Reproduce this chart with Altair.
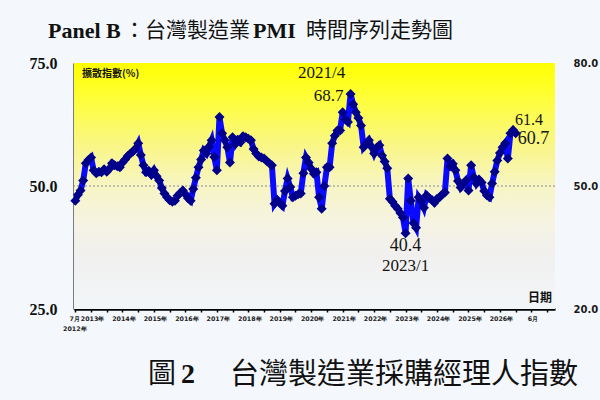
import altair as alt
import pandas as pd

# Monthly Taiwan manufacturing PMI, starting 2012/7
pmi = [
    47.0, 48.2, 49.1, 51.1, 54.6, 55.3, 55.8, 53.2, 52.6, 52.9, 52.8, 53.4,
    52.9, 53.5, 54.6, 54.2, 54.0, 53.8, 54.8, 55.4, 56.1, 56.6, 57.0, 57.6,
    58.7, 56.3, 54.2, 52.8, 53.1, 52.3, 53.2, 52.0, 51.1, 49.6, 48.5, 47.7,
    47.1, 46.8, 47.0, 48.0, 48.6, 49.1, 48.3, 47.5, 47.0, 49.4, 51.7, 53.8,
    55.4, 57.2, 56.6, 58.0, 59.3, 55.9, 53.2, 64.0, 60.7, 59.3, 57.9, 54.8,
    59.9, 58.5, 59.4, 58.9, 60.1, 59.9, 59.6, 59.3, 57.5, 56.6, 56.0, 55.8,
    55.6, 55.1, 54.6, 54.2, 46.4, 47.2, 46.6, 46.0, 49.0, 51.5, 49.8, 47.7,
    48.0, 48.3, 48.5, 52.6, 55.8, 54.8, 53.5, 52.5, 52.8, 47.7, 45.4, 50.0,
    53.8, 53.8, 58.7, 60.2, 61.3, 61.3, 65.0, 63.5, 63.0, 68.7, 66.6, 65.0,
    63.8, 62.3, 57.9, 58.6, 59.3, 58.0, 56.6, 57.8, 58.3, 56.2, 55.0, 53.6,
    47.4, 46.8, 46.0, 45.4, 44.5, 43.6, 40.4, 51.5, 47.0, 42.5, 41.5, 47.7,
    46.9, 45.6, 48.1, 47.5, 47.2, 46.6, 47.4, 47.7, 48.3, 48.7, 55.6, 54.0,
    54.5, 53.2, 51.0, 49.7, 50.4, 51.1, 49.1, 54.2, 51.8, 50.5, 51.3, 50.7,
    49.0, 48.1, 47.7, 50.5, 52.9, 55.2, 56.7, 57.9, 58.7, 55.6, 60.7, 61.4,
    60.7,
]

months = []
yy, mm = 2012, 7
for _ in pmi:
    months.append(f"{yy}/{mm}")
    mm += 1
    if mm > 12:
        mm, yy = 1, yy + 1

df = pd.DataFrame({"t": list(range(len(pmi))), "pmi": pmi, "month": months})

left_ticks = [25, 50, 75]
right_ticks = [20, 50, 80]
xtick_pos = list(range(0, 181, 6))
xlabel_pos = [0, 6, 18, 30, 42, 54, 66, 78, 90, 102, 114, 126, 138, 150, 162, 174]
xlabel_text = [["7月", "2012年"], "2013年", "2014年", "2015年", "2016年", "2017年",
               "2018年", "2019年", "2020年", "2021年", "2022年", "2023年", "2024年",
               "2025年", "2026年", "6月"]

expr = "''"
for p, lab in reversed(list(zip(xlabel_pos, xlabel_text))):
    if isinstance(lab, list):
        s = "[" + ",".join(f"'{x}'" for x in lab) + "]"
    else:
        s = f"'{lab}'"
    expr = f"datum.value == {p} ? {s} : ({expr})"

W, H = 481, 246
xs = alt.Scale(domain=[-0.5, 183], nice=False, zero=False)
ys = alt.Scale(domain=[25, 75], nice=False, zero=False)

x_axis = alt.Axis(values=xtick_pos, labelExpr=expr, title=None, grid=False,
                  domainColor="#000", domainWidth=2.5, tickColor="#000", tickWidth=1.5,
                  tickSize=3, labelFont="DejaVu Sans", labelFontSize=6.3, labelFontWeight="bold",
                  labelColor="#222", labelPadding=3, labelOverlap=False, labelFlush=False,
                  labelBound=False, labelLineHeight=10, labelBaseline="top",
                  labelOffset={"condition": {"test": "datum.value == 0", "value": -1},
                               "value": 1})
y_axis = alt.Axis(values=left_ticks, format=".1f", title=None, grid=False, ticks=False,
                  domainColor="#000", domainWidth=2, labelFont="Liberation Serif",
                  labelFontWeight="bold", labelFontSize=16, labelColor="#111", labelPadding=17)

X = alt.X("t:Q", scale=xs, axis=x_axis)
Y = alt.Y("pmi:Q", scale=ys, axis=y_axis)

grad = alt.Gradient(
    gradient="linear", x1=0, x2=0, y1=0, y2=1,
    stops=[
        alt.GradientStop(color="#FFFF00", offset=0.0),
        alt.GradientStop(color="#FFFF30", offset=0.12),
        alt.GradientStop(color="#F9F68C", offset=0.35),
        alt.GradientStop(color="#F7F5C4", offset=0.5),
        alt.GradientStop(color="#F5F3E2", offset=0.65),
        alt.GradientStop(color="#F1F0EF", offset=0.78),
        alt.GradientStop(color="#F2F5F8", offset=1.0),
    ],
)

one = alt.Data(values=[{}])

bg = alt.Chart(one).mark_rect(color=grad).encode(
    x=alt.value(0), x2=alt.value(W), y=alt.value(0), y2=alt.value(H))

rule50 = alt.Chart(one).mark_rule(color="#888", strokeDash=[2, 2], strokeWidth=1).encode(
    y=alt.datum(50, scale=ys))

base = alt.Chart(df)
line = base.mark_line(color="#0A0AFF", strokeWidth=6).encode(x=X, y=Y)
pts = base.mark_point(shape="diamond", filled=True, size=100, color="#00008B",
                      opacity=1).encode(x=X, y=Y)

peak = pmi.index(max(pmi))
trough = pmi.index(min(pmi))
last = len(pmi) - 1

def ann(idx, field, dx, dy, size=17, align="center", fmt=None):
    txt = alt.Text(f"{field}:Q", format=fmt) if fmt else alt.Text(f"{field}:N")
    return base.transform_filter(alt.datum.t == idx).mark_text(
        font="Liberation Serif", fontSize=size, color="#151515", align=align,
        baseline="middle", dx=dx, dy=dy).encode(x=X, y=Y, text=txt)

anns = [
    ann(peak, "month", -29, -21),
    ann(peak, "pmi", -22, 2, fmt=".1f"),
    ann(trough, "pmi", 0, 13, size=18, fmt=".1f"),
    ann(trough, "month", 0, 33),
    ann(last - 1, "pmi", 2, -10, size=16, align="left", fmt=".1f"),
    ann(last, "pmi", 2, 6, size=18, align="left", fmt=".1f"),
]

def txt(s, x, y, font, size, weight="normal", align="left"):
    return alt.Chart(one).mark_text(text=s, font=font, fontSize=size, fontWeight=weight,
                                    align=align, baseline="middle", color="#111").encode(
        x=alt.value(x), y=alt.value(y))

CJK = "Noto Sans CJK TC"
SER = "Liberation Serif"
texts = [
    txt("Panel B", -26, -32, SER, 22, "bold"),
    txt("：台灣製造業", 50, -32, CJK, 21),
    txt("PMI", 179, -32, SER, 22, "bold"),
    txt("時間序列走勢圖", 232, -32, CJK, 21),
    txt("圖", 74, 312, CJK, 28),
    txt("2", 107, 312, SER, 28, "bold"),
    txt("台灣製造業採購經理人指數", 156, 312, CJK, 29),
    txt("擴散指數(%)", 8, 11, CJK, 10, "bold"),
    txt("日期", 478, 235, CJK, 12, "bold", align="right"),
]

main = alt.layer(bg, rule50, line, pts, *anns, *texts)

right = alt.Chart(pd.DataFrame({"r": right_ticks})).mark_point(opacity=0).encode(
    y=alt.Y("r:Q", scale=alt.Scale(domain=[20, 80], nice=False, zero=False),
            axis=alt.Axis(orient="right", values=right_ticks, format=".1f", title=None,
                          grid=False, ticks=False, domain=False, labelFont="DejaVu Sans",
                          labelFontSize=10, labelFontWeight="bold", labelColor="#1a1a1a",
                          labelPadding=18)))

chart = alt.layer(main, right).resolve_scale(y="independent").properties(
    width=W, height=H, autosize="none",
    padding={"left": 74, "top": 63, "right": 45, "bottom": 91},
    background="#F4F8FC",
).configure_view(stroke=None)

chart.save("out.html", embed_options={"renderer": "svg", "actions": False})
